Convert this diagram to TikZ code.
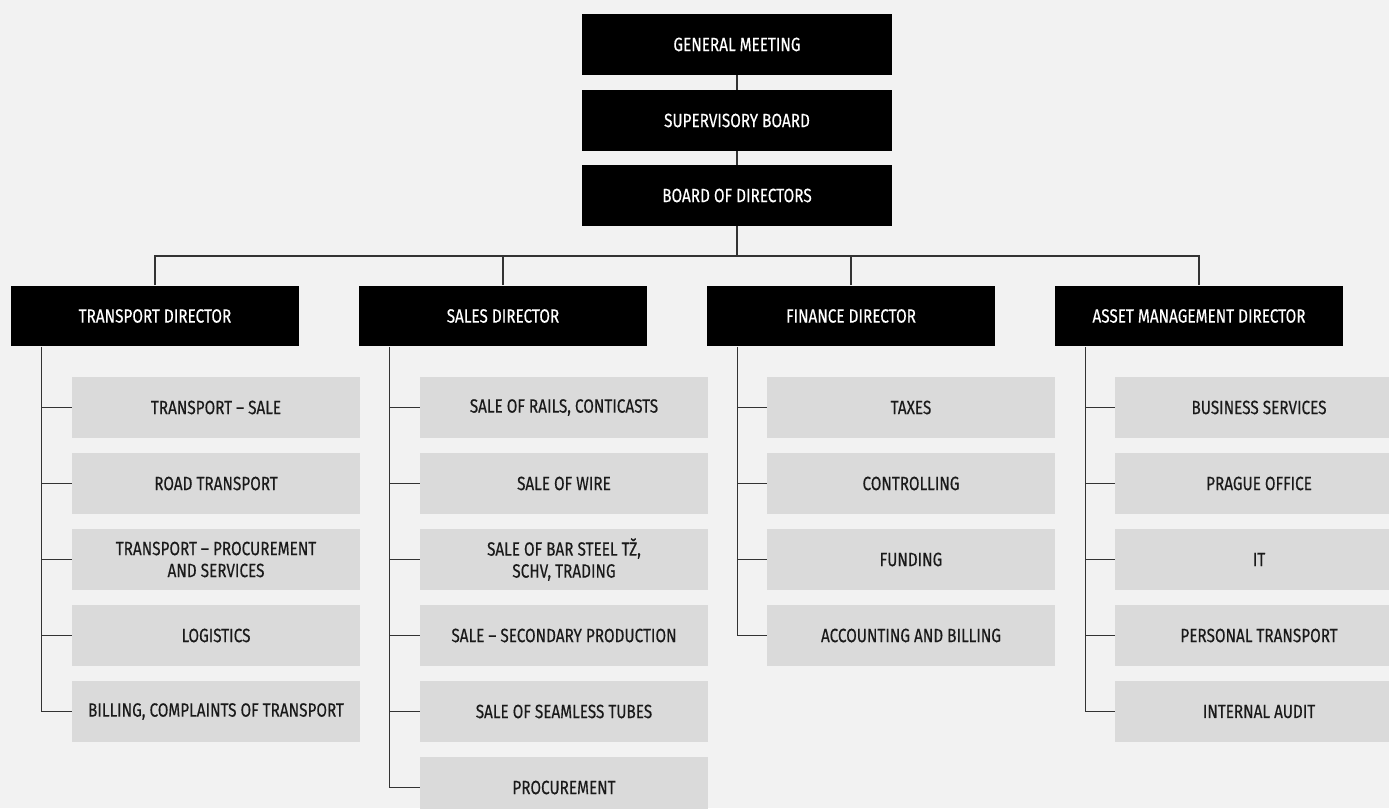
\documentclass[tikz,border=0pt]{standalone}
\usepackage{fontspec}
\setmainfont{Fira Sans}[FakeStretch=0.8, FakeBold=0.4]
\usepackage{tikz}
\usetikzlibrary{positioning}
\definecolor{pagebg}{HTML}{F2F2F2}
\definecolor{unitgray}{HTML}{DADADA}
\definecolor{unittext}{HTML}{1A1A1A}
\definecolor{linkgray}{HTML}{333333}
\tikzset{
    headbox/.style={fill=black, text=white, minimum width=6.2cm, minimum height=1.22cm,
        inner sep=0pt, align=center, font=\fontsize{10.9}{12.5}\selectfont},
    dirbox/.style={headbox, minimum width=5.76cm},
    unitbox/.style={fill=unitgray, text=unittext, minimum width=5.76cm, minimum height=1.22cm,
        inner sep=0pt, align=center, font=\fontsize{10.9}{12.5}\selectfont},
    link/.style={draw=linkgray, line width=0.75pt}
}

\begin{document}
\begin{tikzpicture}[x=0.02cm, y=-0.02cm]
    \clip (0,0) rectangle (1389,808);
    \fill[pagebg] (0,0) rectangle (1389,808);

    % governing bodies
    \node[headbox] at (737,44.5) (gm) {GENERAL MEETING};
    \node[headbox] at (737,120.5) (sb) {SUPERVISORY BOARD};
    \node[headbox] at (737,195.5) (bod) {BOARD OF DIRECTORS};
    \coordinate (bus) at (737,256);

    % directors
    \node[dirbox] at (155,316) (td) {TRANSPORT DIRECTOR};
    \node[dirbox] at (503,316) (sd) {SALES DIRECTOR};
    \node[dirbox] at (851,316) (fd) {FINANCE DIRECTOR};
    \node[dirbox] at (1199,316) (ad) {ASSET MANAGEMENT DIRECTOR};

    % transport
    \node[unitbox] at (216,407.5) (t1) {TRANSPORT -- SALE};
    \node[unitbox] at (216,483.5) (t2) {ROAD TRANSPORT};
    \node[unitbox] at (216,559.5) (t3) {TRANSPORT -- PROCUREMENT\\AND SERVICES};
    \node[unitbox] at (216,635.5) (t4) {LOGISTICS};
    \node[unitbox] at (216,711.5) (t5) {BILLING, COMPLAINTS OF TRANSPORT};

    % sales
    \node[unitbox] at (564,407.5) (s1) {SALE OF RAILS, CONTICASTS};
    \node[unitbox] at (564,483.5) (s2) {SALE OF WIRE};
    \node[unitbox] at (564,559.5) (s3) {SALE OF BAR STEEL TŽ,\\SCHV, TRADING};
    \node[unitbox] at (564,635.5) (s4) {SALE -- SECONDARY PRODUCTION};
    \node[unitbox] at (564,711.5) (s5) {SALE OF SEAMLESS TUBES};
    \node[unitbox] at (564,787.5) (s6) {PROCUREMENT};

    % finance
    \node[unitbox] at (911,407.5) (f1) {TAXES};
    \node[unitbox] at (911,483.5) (f2) {CONTROLLING};
    \node[unitbox] at (911,559.5) (f3) {FUNDING};
    \node[unitbox] at (911,635.5) (f4) {ACCOUNTING AND BILLING};

    % asset management
    \node[unitbox] at (1259,407.5) (a1) {BUSINESS SERVICES};
    \node[unitbox] at (1259,483.5) (a2) {PRAGUE OFFICE};
    \node[unitbox] at (1259,559.5) (a3) {IT};
    \node[unitbox] at (1259,635.5) (a4) {PERSONAL TRANSPORT};
    \node[unitbox] at (1259,711.5) (a5) {INTERNAL AUDIT};

    % links
    \path[link]
    (gm) -- (sb)
    (sb) -- (bod)
    (bod) -- (bus)
    (td.north) |- (bus) -| (ad.north)
    (sd.north) -- (sd.north |- bus)
    (fd.north) -- (fd.north |- bus)
    ;
    \coordinate (tspine) at ([xshift=0.62cm]td.south west);
    \coordinate (sspine) at ([xshift=0.62cm]sd.south west);
    \coordinate (fspine) at ([xshift=0.62cm]fd.south west);
    \coordinate (aspine) at ([xshift=0.62cm]ad.south west);
    \draw[link] (tspine) |- (t5.west);
    \draw[link] (sspine) |- (s6.west);
    \draw[link] (fspine) |- (f4.west);
    \draw[link] (aspine) |- (a5.west);
    \foreach \u in {t1,t2,t3,t4} \draw[link] (tspine |- \u.west) -- (\u.west);
    \foreach \u in {s1,s2,s3,s4,s5} \draw[link] (sspine |- \u.west) -- (\u.west);
    \foreach \u in {f1,f2,f3} \draw[link] (fspine |- \u.west) -- (\u.west);
    \foreach \u in {a1,a2,a3,a4} \draw[link] (aspine |- \u.west) -- (\u.west);
\end{tikzpicture}
\end{document}
